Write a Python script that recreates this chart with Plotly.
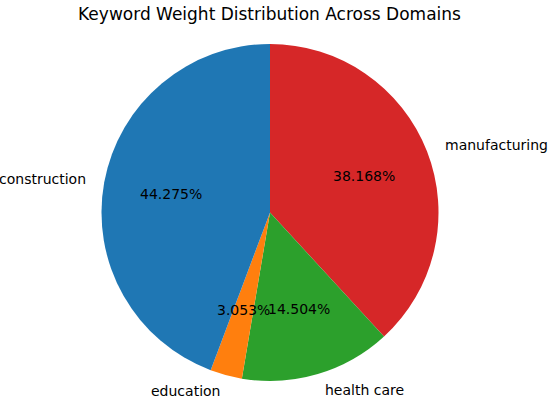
import numpy as np
import plotly.graph_objects as go

labels = ["construction", "education", "health care", "manufacturing"]
values = [58, 4, 19, 50]
colors = ["#1f77b4", "#ff7f0e", "#2ca02c", "#d62728"]
title = "Keyword Weight Distribution Across Domains"

W, H = 550, 400
cx, cy, r = 270, 212.5, 168.5
dom_x = [(cx - r) / W, (cx + r) / W]
dom_y = [1 - (cy + r) / H, 1 - (cy - r) / H]

# overlay axes in pie-radius units, wide enough to hold the outside labels
xr = [-1.55, 1.55]
yr = [-1.1, 1.0]
ax_x = [(cx + xr[0] * r) / W, (cx + xr[1] * r) / W]
ax_y = [1 - (cy - yr[0] * r) / H, 1 - (cy - yr[1] * r) / H]

fig = go.Figure()
# matplotlib draws counterclockwise from 12 o'clock; equivalent to clockwise with reversed order
fig.add_trace(go.Pie(
    labels=labels[::-1], values=values[::-1], sort=False, direction="clockwise",
    rotation=0, marker=dict(colors=colors[::-1], line=dict(width=0)),
    textinfo="none", hoverinfo="skip", showlegend=False,
    domain=dict(x=dom_x, y=dom_y),
))

# text positions following matplotlib's pie layout (labeldistance 1.1, pctdistance 0.6)
vals = np.array(values, dtype=float)
fracs = vals / vals.sum()
start = 90.0
mids = []
for f in fracs:
    mids.append(np.deg2rad(start + 360 * f / 2))
    start += 360 * f
mids = np.array(mids)

lx = 1.1 * np.cos(mids)
ly = 1.1 * np.sin(mids)
px = 0.6 * np.cos(mids)
py = 0.6 * np.sin(mids)
pct_text = [f"{100 * f:.3f}%" for f in fracs]

font = dict(family="DejaVu Sans", size=14, color="black")
annotations = []
for i in range(len(labels)):
    annotations.append(dict(
        x=lx[i], y=ly[i], xref="x", yref="y", text=labels[i], showarrow=False,
        xanchor="left" if lx[i] > 0 else "right", yanchor="middle", font=font,
    ))
    annotations.append(dict(
        x=px[i], y=py[i], xref="x", yref="y", text=pct_text[i], showarrow=False,
        xanchor="center", yanchor="middle", font=font,
    ))

fig.update_layout(
    width=W, height=H, margin=dict(l=0, r=0, t=0, b=0),
    paper_bgcolor="white", plot_bgcolor="rgba(0,0,0,0)",
    title=dict(text=title, x=0.49, xanchor="center", y=1 - 14 / H, yanchor="middle",
               font=dict(family="DejaVu Sans", size=17, color="black")),
    xaxis=dict(domain=ax_x, range=xr, visible=False, fixedrange=True),
    yaxis=dict(domain=ax_y, range=yr, visible=False, fixedrange=True),
    annotations=annotations,
)
fig.write_html("out.html", config={"displayModeBar": False},
               post_script="document.body.style.margin='0';")
